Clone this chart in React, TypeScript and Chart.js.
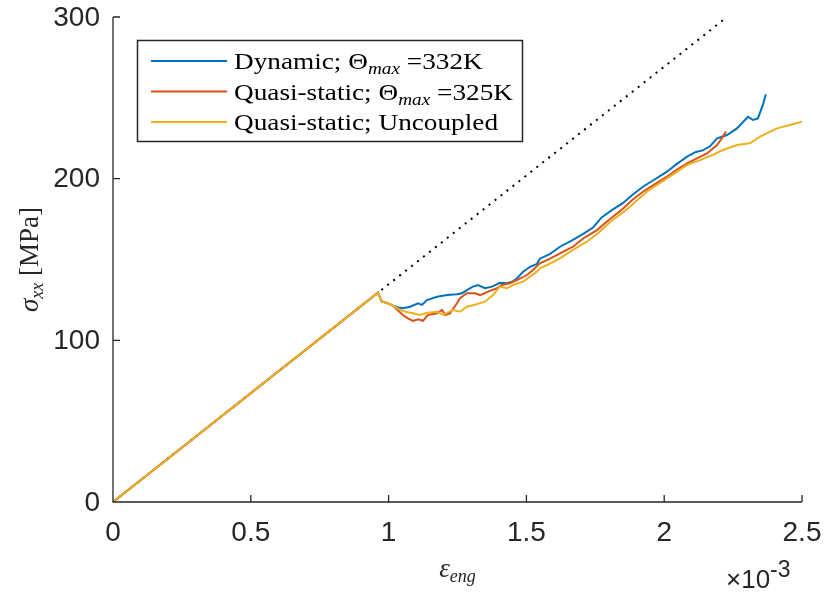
import React, { useEffect, useRef } from "react";
import { Chart, registerables } from "chart.js";

Chart.register(...registerables);

// ---- Axis ticks ----
const X_TICKS = [0, 0.5, 1, 1.5, 2, 2.5];
const X_TICK_LABELS = ["0", "0.5", "1", "1.5", "2", "2.5"];
const Y_TICKS = [0, 100, 200, 300];
const Y_TICK_LABELS = ["0", "100", "200", "300"];

// ---- Series (strain in 1e-3, stress in MPa) ----
const dynamicStrain = [0, 0.9615, 0.975, 0.995, 1.016, 1.034, 1.052, 1.078, 1.107, 1.121, 1.139, 1.176, 1.212, 1.248, 1.266, 1.284, 1.306, 1.324, 1.35, 1.375, 1.404, 1.43, 1.451, 1.466, 1.488, 1.513, 1.538, 1.549, 1.586, 1.622, 1.669, 1.706, 1.742, 1.773, 1.81, 1.851, 1.885, 1.923, 1.965, 2.01, 2.045, 2.083, 2.115, 2.14, 2.166, 2.192, 2.228, 2.264, 2.304, 2.322, 2.34, 2.358, 2.369];
const dynamicStress = [0, 129.5, 124.0, 123.0, 121.5, 120.3, 119.8, 120.8, 122.9, 121.9, 124.9, 127.0, 128.0, 128.5, 129.1, 131.1, 133.2, 134.2, 132.2, 133.2, 135.6, 135.3, 136.5, 138.4, 142.4, 145.5, 147.2, 150.5, 153.5, 157.9, 162.1, 165.8, 169.8, 176.0, 180.5, 185.0, 190.0, 195.0, 199.5, 204.3, 209.0, 213.6, 216.5, 217.5, 220.0, 225.0, 227.0, 231.1, 238.3, 236.3, 237.3, 245.6, 252.2];

const quasiStrain = [0, 0.9615, 0.975, 0.995, 1.016, 1.034, 1.052, 1.07, 1.089, 1.107, 1.125, 1.143, 1.176, 1.194, 1.205, 1.223, 1.248, 1.259, 1.284, 1.313, 1.332, 1.361, 1.393, 1.411, 1.44, 1.466, 1.502, 1.524, 1.549, 1.586, 1.622, 1.669, 1.706, 1.756, 1.796, 1.851, 1.885, 1.923, 1.965, 2.01, 2.045, 2.083, 2.119, 2.155, 2.192, 2.213, 2.224];
const quasiStress = [0, 129.5, 124.0, 123.0, 121.5, 118.5, 115.7, 113.6, 112.0, 113.0, 112.1, 115.7, 116.7, 118.8, 115.7, 116.7, 122.9, 126.0, 129.1, 129.1, 128.0, 130.1, 132.2, 134.2, 135.3, 137.3, 140.4, 143.5, 147.6, 150.5, 153.8, 157.9, 163.0, 168.2, 174.0, 181.5, 187.0, 191.9, 196.5, 201.2, 205.5, 209.4, 212.6, 215.6, 220.8, 226.0, 229.1];

const uncoupledStrain = [0, 0.9615, 0.975, 0.995, 1.016, 1.041, 1.065, 1.089, 1.114, 1.139, 1.176, 1.197, 1.234, 1.259, 1.284, 1.313, 1.35, 1.379, 1.404, 1.43, 1.451, 1.488, 1.513, 1.538, 1.549, 1.575, 1.622, 1.669, 1.719, 1.76, 1.803, 1.864, 1.937, 2.01, 2.082, 2.13, 2.166, 2.213, 2.264, 2.311, 2.348, 2.409, 2.456, 2.5];
const uncoupledStress = [0, 129.5, 124.0, 123.0, 121.5, 118.8, 117.5, 116.7, 115.7, 117.1, 117.7, 115.7, 118.8, 117.7, 120.8, 122.0, 123.9, 128.0, 133.2, 132.2, 134.2, 136.3, 139.4, 142.5, 144.5, 146.6, 150.7, 155.9, 161.0, 166.2, 173.0, 181.0, 191.9, 200.2, 208.4, 211.5, 214.0, 217.7, 220.8, 221.9, 226.0, 231.1, 233.2, 235.2];

const elasticStrain = [0, 2.228];
const elasticStress = [0, 300];

const COLORS = ["#0072BD", "#D95319", "#EDB120"];

const pts = (xs: number[], ys: number[]) => xs.map((x, i) => ({ x, y: ys[i] }));

const SERIF = "'Liberation Serif', 'Times New Roman', serif";
const SANS = "'Liberation Sans', Arial, Helvetica, sans-serif";
const AX = "#262626";

type Part = { t: string; f: string; dy?: number };

const LEGEND_ROWS: Part[][] = [
  [
    { t: "Dynamic; ", f: `24px ${SERIF}` },
    { t: "Θ", f: `24px ${SERIF}` },
    { t: "max", f: `italic 17px ${SERIF}`, dy: 5 },
    { t: " =332K", f: `24px ${SERIF}` },
  ],
  [
    { t: "Quasi-static; ", f: `24px ${SERIF}` },
    { t: "Θ", f: `24px ${SERIF}` },
    { t: "max", f: `italic 17px ${SERIF}`, dy: 5 },
    { t: " =325K", f: `24px ${SERIF}` },
  ],
  [{ t: "Quasi-static; Uncoupled", f: `24px ${SERIF}` }],
];

function rowWidth(ctx: CanvasRenderingContext2D, parts: Part[]) {
  let w = 0;
  for (const p of parts) {
    ctx.font = p.f;
    w += ctx.measureText(p.t).width;
  }
  return w;
}

function drawParts(ctx: CanvasRenderingContext2D, parts: Part[], x: number, y: number) {
  let cx = x;
  for (const p of parts) {
    ctx.font = p.f;
    ctx.fillText(p.t, cx, y + (p.dy || 0));
    cx += ctx.measureText(p.t).width;
  }
  return cx;
}

const decorPlugin = {
  id: "matlabDecor",
  afterDatasetsDraw(chart: any) {
    const { ctx, chartArea: a, scales } = chart;
    const xs = scales.x;
    const ys = scales.y;
    ctx.save();
    // axis lines
    ctx.strokeStyle = AX;
    ctx.lineWidth = 1.3;
    ctx.beginPath();
    ctx.moveTo(a.left, a.top);
    ctx.lineTo(a.left, a.bottom);
    ctx.lineTo(a.right, a.bottom);
    // ticks (inward)
    X_TICKS.forEach((v) => {
      const px = xs.getPixelForValue(v);
      ctx.moveTo(px, a.bottom);
      ctx.lineTo(px, a.bottom - 7);
    });
    Y_TICKS.forEach((v) => {
      const py = ys.getPixelForValue(v);
      ctx.moveTo(a.left, py);
      ctx.lineTo(a.left + 7, py);
    });
    ctx.stroke();

    // tick labels
    ctx.fillStyle = AX;
    ctx.font = `28px ${SANS}`;
    ctx.textAlign = "center";
    ctx.textBaseline = "middle";
    X_TICKS.forEach((v, i) => {
      ctx.fillText(X_TICK_LABELS[i], xs.getPixelForValue(v), a.bottom + 31);
    });
    ctx.textAlign = "right";
    Y_TICKS.forEach((v, i) => {
      ctx.fillText(Y_TICK_LABELS[i], a.left - 13, ys.getPixelForValue(v) + 1);
    });

    // exponent  x10^-3
    ctx.textAlign = "left";
    ctx.textBaseline = "alphabetic";
    ctx.font = `26px ${SANS}`;
    const ex = a.right - 76;
    ctx.fillText("×10", ex, a.bottom + 86);
    const w10 = ctx.measureText("×10").width;
    ctx.font = `23px ${SANS}`;
    ctx.fillText("-3", ex + w10, a.bottom + 75);

    // x label  eps_eng
    const xl: Part[] = [
      { t: "ε", f: `italic 27px ${SERIF}` },
      { t: "eng", f: `italic 18px ${SERIF}`, dy: 5 },
    ];
    const xw = rowWidth(ctx, xl);
    drawParts(ctx, xl, (a.left + a.right) / 2 - xw / 2, a.bottom + 75);

    // y label  sigma_xx [MPa]
    const yl: Part[] = [
      { t: "σ", f: `italic 27px ${SERIF}` },
      { t: "xx", f: `italic 18px ${SERIF}`, dy: 5 },
      { t: " [MPa]", f: `27px ${SERIF}` },
    ];
    const yw = rowWidth(ctx, yl);
    ctx.save();
    ctx.translate(38, (a.top + a.bottom) / 2);
    ctx.rotate(-Math.PI / 2);
    drawParts(ctx, yl, -yw / 2, 0);
    ctx.restore();

    // legend
    const L = { x: 137, y: 40, w: 385, h: 101 };
    ctx.fillStyle = "#ffffff";
    ctx.fillRect(L.x, L.y, L.w, L.h);
    ctx.strokeStyle = AX;
    ctx.lineWidth = 1.5;
    ctx.strokeRect(L.x + 0.5, L.y + 0.5, L.w, L.h);
    const rowsY = [61, 91.5, 122];
    const targetW = 279;
    const natW = rowWidth(ctx, LEGEND_ROWS[1]);
    const sx = targetW / natW;
    LEGEND_ROWS.forEach((row, i) => {
      const y = rowsY[i];
      ctx.strokeStyle = COLORS[i];
      ctx.lineWidth = 2;
      ctx.beginPath();
      ctx.moveTo(151, y);
      ctx.lineTo(227, y);
      ctx.stroke();
      ctx.fillStyle = "#000000";
      ctx.save();
      ctx.translate(234, y + 8);
      ctx.scale(sx, 1);
      drawParts(ctx, row, 0, 0);
      ctx.restore();
    });
    ctx.restore();
  },
};

export default function App() {
  const ref = useRef<HTMLCanvasElement | null>(null);
  useEffect(() => {
    if (!ref.current) return;
    const chart = new Chart(ref.current, {
      type: "line",
      data: {
        datasets: [
          {
            label: "Dynamic; Θmax =332K",
            data: pts(dynamicStrain, dynamicStress),
            borderColor: COLORS[0],
            borderWidth: 2,
            pointRadius: 0,
            tension: 0,
            order: 3,
          },
          {
            label: "Quasi-static; Θmax =325K",
            data: pts(quasiStrain, quasiStress),
            borderColor: COLORS[1],
            borderWidth: 2,
            pointRadius: 0,
            tension: 0,
            order: 2,
          },
          {
            label: "Quasi-static; Uncoupled",
            data: pts(uncoupledStrain, uncoupledStress),
            borderColor: COLORS[2],
            borderWidth: 2,
            pointRadius: 0,
            tension: 0,
            order: 1,
          },
          {
            label: "elastic",
            data: pts(elasticStrain, elasticStress),
            borderColor: "#000000",
            borderWidth: 2,
            borderDash: [2, 5.6],
            pointRadius: 0,
            tension: 0,
            order: 4,
          },
        ],
      },
      options: {
        responsive: false,
        animation: false,
        devicePixelRatio: 1,
        parsing: false as any,
        layout: { padding: { left: 113, right: 24, top: 17, bottom: 91 } },
        plugins: { legend: { display: false }, tooltip: { enabled: false } },
        scales: {
          x: { type: "linear", min: 0, max: 2.5, display: false },
          y: { type: "linear", min: 0, max: 300, display: false },
        },
      },
      plugins: [decorPlugin],
    });
    return () => chart.destroy();
  }, []);
  return (
    <div style={{ position: "absolute", left: 0, top: 0, width: 826, height: 593, background: "#fff" }}>
      <canvas ref={ref} width={826} height={593} />
    </div>
  );
}
